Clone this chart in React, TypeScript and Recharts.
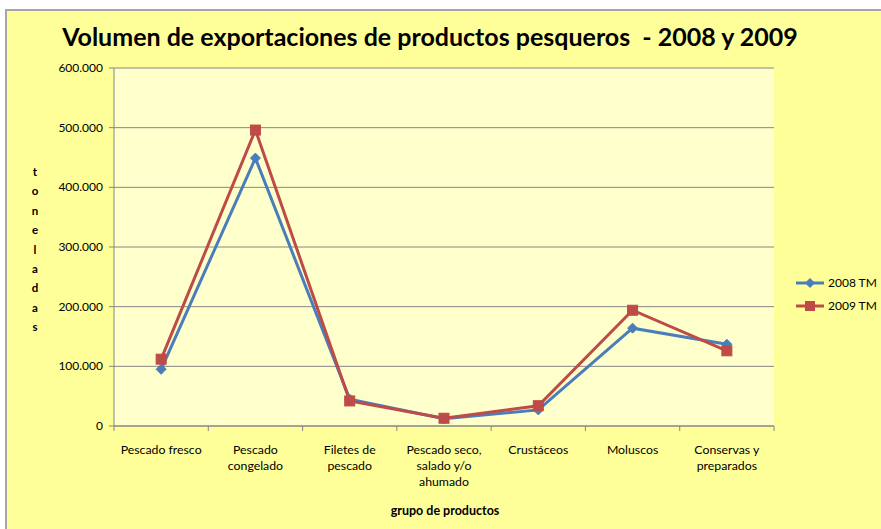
import React from "react";
import { LineChart, Line, XAxis, YAxis, CartesianGrid, Legend } from "recharts";

const categories = [
  "Pescado fresco",
  "Pescado\ncongelado",
  "Filetes de\npescado",
  "Pescado seco,\nsalado y/o\nahumado",
  "Crustáceos",
  "Moluscos",
  "Conservas y\npreparados",
];
const series2008 = [95000, 449000, 45000, 12000, 27000, 164000, 137000];
const series2009 = [112000, 496000, 42000, 13000, 34000, 194000, 126000];
const yTicks = [0, 100000, 200000, 300000, 400000, 500000, 600000];
const seriesNames = ["2008 TM", "2009 TM"];
const title = "Volumen de exportaciones de productos pesqueros  - 2008 y 2009";
const xTitle = "grupo de productos";
const yTitle = "toneladas";

const data = categories.map((c, i) => ({ name: c, s2008: series2008[i], s2009: series2009[i] }));

const BLUE = "#4A7EBB";
const RED = "#BE4B48";
const FONT = "Lato, 'Open Sans', sans-serif";
const W = 881;
const H = 529;
const X_H = 90;
const LEG_W = 90;
const M = { top: 68, right: 107 - LEG_W, bottom: 103 - X_H, left: 54 };
const Y_W = 60;
const plotW = W - 54 - 107 - Y_W;
const band = plotW / categories.length;

const fmt = (v: number) => (v === 0 ? "0" : v.toLocaleString("de-DE"));

const Diamond = (props: any) => {
  const { cx, cy } = props;
  if (cx == null || cy == null) return null;
  const r = 5;
  return <path d={`M${cx},${cy - r}L${cx + r},${cy}L${cx},${cy + r}L${cx - r},${cy}Z`} fill={BLUE} stroke={BLUE} strokeWidth={1} />;
};
const Square = (props: any) => {
  const { cx, cy } = props;
  if (cx == null || cy == null) return null;
  const r = 5;
  return <rect x={cx - r} y={cy - r} width={2 * r} height={2 * r} fill={RED} stroke={RED} strokeWidth={1} />;
};

const XTick = (props: any) => {
  const { x, y, payload, index } = props;
  const lines = String(payload.value).split("\n");
  return (
    <g>
      <line x1={x - band / 2} x2={x - band / 2} y1={y - 8} y2={y - 3} stroke="#868686" />
      {index === categories.length - 1 && (
        <line x1={x + band / 2} x2={x + band / 2} y1={y - 8} y2={y - 3} stroke="#868686" />
      )}
      <text x={x} y={y + 20} textAnchor="middle" fontSize={12.3} fontFamily={FONT} fill="#000">
        {lines.map((l, i) => (
          <tspan key={i} x={x} dy={i === 0 ? 0 : 16}>{l}</tspan>
        ))}
      </text>
    </g>
  );
};

const YTick = (props: any) => {
  const { x, y, payload } = props;
  return (
    <text x={x - 4} y={y + 4} textAnchor="end" fontSize={12} fontFamily={FONT} fill="#000">
      {fmt(payload.value)}
    </text>
  );
};

const LegendContent = () => (
  <div style={{ fontFamily: FONT, fontSize: 12, color: "#000" }}>
    {seriesNames.map((n, i) => (
      <div key={n} style={{ display: "flex", alignItems: "center", height: 23 }}>
        <svg width={30} height={12} style={{ marginRight: 3 }}>
          <line x1={1} x2={29} y1={6} y2={6} stroke={i === 0 ? BLUE : RED} strokeWidth={3} />
          {i === 0 ? (
            <path d="M15,1L20,6L15,11L10,6Z" fill={BLUE} />
          ) : (
            <rect x={10} y={1} width={10} height={10} fill={RED} />
          )}
        </svg>
        <span>{n}</span>
      </div>
    ))}
  </div>
);

const YLabel = () => (
  <g>
    {yTitle.split("").map((ch, i) => (
      <text key={i} x={35} y={176 + i * 19.4} textAnchor="middle" fontSize={11.5} fontWeight="bold" fontFamily={FONT} fill="#000">
        {ch}
      </text>
    ))}
  </g>
);

export default function App() {
  return (
    <div style={{ position: "absolute", left: 0, top: 0, width: W, height: H, overflow: "hidden", background: "#fff" }}>
      <div style={{ position: "absolute", left: 5, top: 9, width: W, height: H, background: "#FFFF99", border: "2px solid #A6A6A6", boxSizing: "border-box" }} />
      <div style={{ position: "absolute", left: 0, top: 0 }}>
        <LineChart width={W} height={H} data={data} margin={M}>
          <text x={430} y={46} textAnchor="middle" fontSize={25} fontWeight="bold" fontFamily={FONT} fill="#000" style={{ whiteSpace: "pre" }}>
            {title}
          </text>
          <CartesianGrid vertical={false} stroke="#868686" fill="#FFFFCC" />
          <XAxis
            dataKey="name"
            interval={0}
            tickLine={false}
            stroke="#868686"
            tick={<XTick />}
            height={X_H}
            padding={{ left: band / 2, right: band / 2 }}
          />
          <YAxis width={Y_W} domain={[0, 600000]} ticks={yTicks} stroke="#868686" tickSize={5} tick={<YTick />} />
          <Line dataKey="s2008" name={seriesNames[0]} stroke={BLUE} strokeWidth={3} dot={<Diamond />} activeDot={false} isAnimationActive={false} />
          <Line dataKey="s2009" name={seriesNames[1]} stroke={RED} strokeWidth={3} dot={<Square />} activeDot={false} isAnimationActive={false} />
          <Legend
            layout="vertical"
            align="right"
            verticalAlign="middle"
            content={<LegendContent />}
            wrapperStyle={{ left: 795, top: 271, width: LEG_W, right: "auto", bottom: "auto" }}
          />
          <text x={445} y={515} textAnchor="middle" fontSize={12.5} fontWeight="bold" fontFamily={FONT} fill="#000">
            {xTitle}
          </text>
          <YLabel />
        </LineChart>
      </div>
    </div>
  );
}
